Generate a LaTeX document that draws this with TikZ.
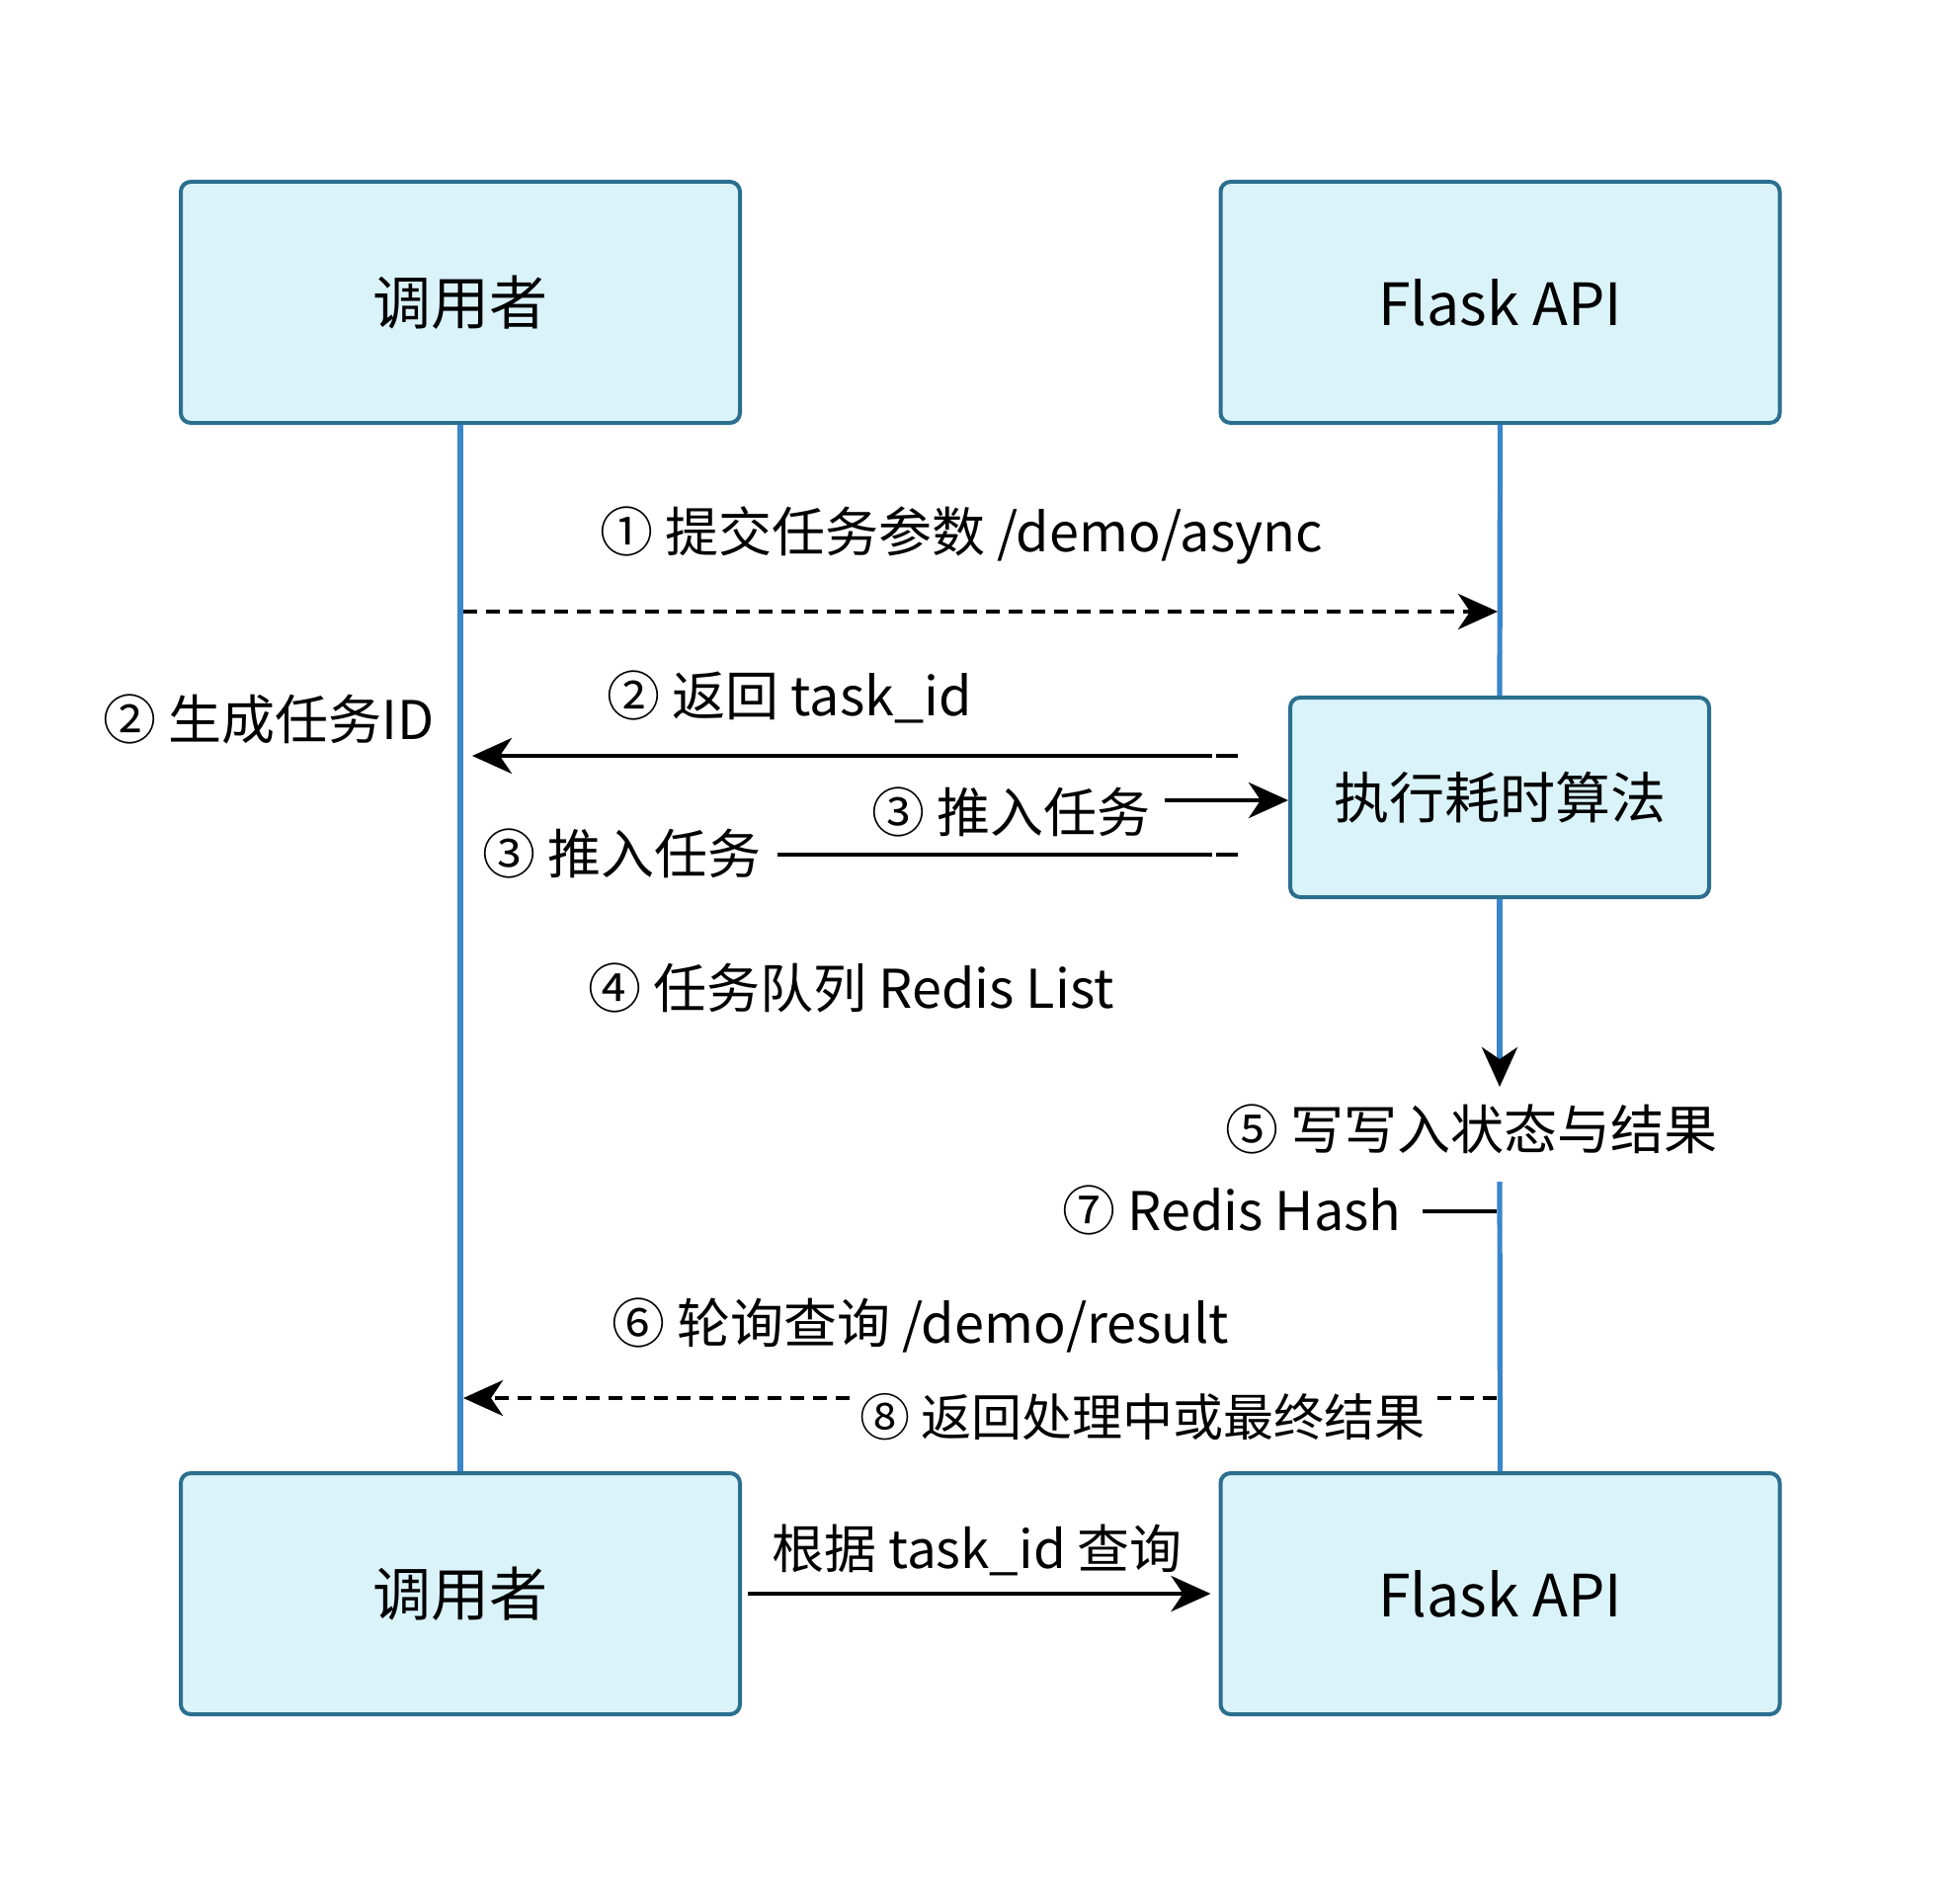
\documentclass[tikz,border=0pt]{standalone}
\usepackage{fontspec}
\setmainfont{Noto Sans CJK SC}
\usetikzlibrary{arrows.meta}
\definecolor{boxfill}{HTML}{DAF3F9}
\definecolor{boxline}{HTML}{2B6F8E}
\definecolor{lifeblue}{HTML}{3A86CC}
\begin{document}
\begin{tikzpicture}[x=0.5pt,y=-0.5pt,
  box/.style={draw=boxline, fill=boxfill, line width=2pt, rounded corners=5pt,
    minimum width=283pt, minimum height=122pt, inner sep=0pt,
    font=\fontsize{29.5}{36}\selectfont},
  lbl/.style={inner sep=0pt, anchor=west, font=\fontsize{27}{32}\selectfont},
  life/.style={draw=lifeblue, line width=2.6pt},
  msg/.style={draw=black, line width=2.3pt},
  dmsg/.style={msg, dash pattern=on 7pt off 4.5pt},
  tip/.style={-{Stealth[length=20pt,width=18pt,inset=6pt,black]}}
]
\useasboundingbox (0,0) rectangle (1984,1920);

% boxes
\node[box] (callerTop) at (466,306) {调用者};
\node[box] (apiTop) at (1518.5,306) {Flask API};
\node[box, minimum width=212pt, minimum height=101pt, font=\fontsize{28}{34}\selectfont] (algo) at (1518,807) {执行耗时算法};
\node[box] (callerBot) at (466,1613) {调用者};
\node[box] (apiBot) at (1518.5,1613) {Flask API};

% coordinates
\coordinate (a1s) at (469,619);
\coordinate (a1e) at (1516,619);
\coordinate (a2s) at (1227,765);
\coordinate (a2e) at (478,765);
\coordinate (a2ds) at (1231,765);
\coordinate (a2de) at (1253,765);
\coordinate (a3s) at (1179,810);
\coordinate (a3e) at (1304,810);
\coordinate (b3s) at (787,865);
\coordinate (b3e) at (1227,865);
\coordinate (b3ds) at (1231,865);
\coordinate (b3de) at (1253,865);
\coordinate (dwn) at (1518,1100);
\coordinate (hashTop) at (1518,1196);
\coordinate (h7s) at (1440,1226);
\coordinate (h7e) at (1515,1226);
\coordinate (a8s) at (860,1415);
\coordinate (a8e) at (469,1415);
\coordinate (a8ds) at (1455,1415);
\coordinate (a8de) at (1516,1415);

% lifelines
\draw[life] (callerTop.south) -- (callerBot.north);
\draw[life] (apiTop.south) -- (algo.north);
\draw[life, tip] (algo.south) -- (dwn);
\draw[life] (hashTop) -- (apiBot.north);

% messages
\draw[dmsg, tip] (a1s) -- (a1e);
\draw[msg, tip] (a2s) -- (a2e);
\draw[msg] (a2ds) -- (a2de);
\draw[msg, tip] (a3s) -- (a3e);
\draw[msg] (b3s) -- (b3e);
\draw[msg] (b3ds) -- (b3de);
\draw[msg] (h7s) -- (h7e);
\draw[dmsg, tip] (a8s) -- (a8e);
\draw[dmsg] (a8ds) -- (a8de);
\draw[msg, tip, shorten <=3pt, shorten >=4pt] (callerBot.east) -- (apiBot.west);

% labels
\node[lbl] (l1) at (607,542) {① 提交任务参数 /demo/async};
\node[lbl] (l2a) at (614,705) {② 返回 task\_id};
\node[lbl] (l2b) at (104,728) {② 生成任务ID};
\node[lbl] (l3a) at (882,822) {③ 推入任务};
\node[lbl] (l3b) at (488,864) {③ 推入任务};
\node[lbl] (l4) at (595,1000) {④ 任务队列 Redis List};
\node[lbl] (l5) at (1240,1143) {⑤ 写写入状态与结果};
\node[lbl] (l7) at (1075,1225) {⑦ Redis Hash};
\node[lbl] (l6) at (619,1341) {⑥ 轮询查询 /demo/result};
\node[lbl, font=\fontsize{25.5}{30}\selectfont] (l8) at (870,1434) {⑧ 返回处理中或最终结果};
\node[lbl, font=\fontsize{26.5}{30}\selectfont] (lq) at (781,1569) {根据 task\_id 查询};
\end{tikzpicture}
\end{document}
